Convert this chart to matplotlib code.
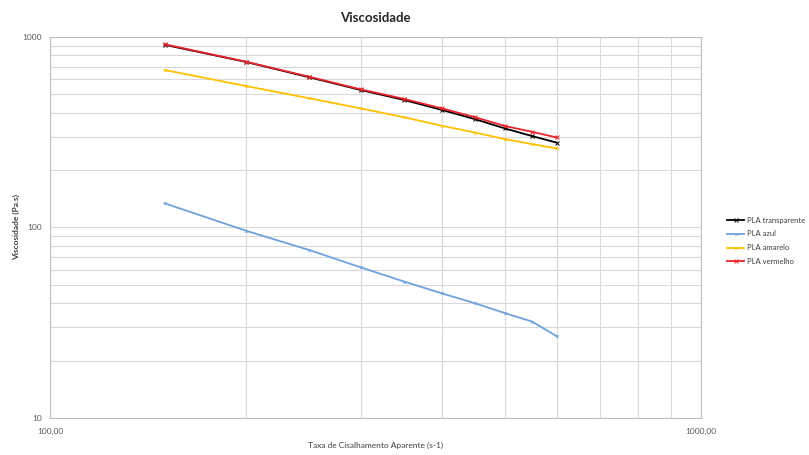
import matplotlib
matplotlib.use("Agg")
import matplotlib.pyplot as plt
from matplotlib.ticker import FixedLocator, FixedFormatter, NullFormatter

plt.rcParams['font.family'] = ['Lato', 'DejaVu Sans']

# shear rate (s-1)
taxa = [150, 200, 250, 300, 350, 400, 450, 500, 550, 600]

# viscosity (Pa.s) per sample
pla_transparente = [910, 740, 615, 527, 467, 414, 370, 331, 302, 279]
pla_azul = [134, 96.2, 76.2, 61.8, 52.0, 45.1, 40.0, 35.5, 32.1, 26.9]
pla_amarelo = [671, 553, 477, 422, 379, 342, 315, 291, 274, 260]
pla_vermelho = [916, 742, 619, 531, 473, 422, 379, 341, 318, 297]

series_names = ["PLA transparente", "PLA azul", "PLA amarelo", "PLA vermelho"]

fig = plt.figure(figsize=(8.09, 4.55), dpi=100)
ax = fig.add_axes([50 / 809, 1 - 418 / 455, 651 / 809, 381 / 455])

ax.plot(taxa, pla_transparente, color="black", lw=1.3, marker="x", ms=3, mew=0.7,
        label=series_names[0], zorder=3)
ax.plot(taxa, pla_azul, color="#6fa3dc", lw=1.3, marker="x", ms=2, mew=0.5,
        label=series_names[1], zorder=3)
ax.plot(taxa, pla_amarelo, color="#ffc000", lw=1.3, marker="x", ms=2, mew=0.5,
        label=series_names[2], zorder=3)
ax.plot(taxa, pla_vermelho, color="#e8252b", lw=1.3, marker="x", ms=3, mew=0.7,
        label=series_names[3], zorder=4)

ax.set_xscale("log")
ax.set_yscale("log")
ax.set_xlim(100, 1000)
ax.set_ylim(10, 1000)

ax.xaxis.set_major_locator(FixedLocator([100, 1000]))
ax.xaxis.set_major_formatter(FixedFormatter(["100,00", "1000,00"]))
ax.xaxis.set_minor_locator(FixedLocator([200, 300, 400, 500, 600, 700, 800, 900]))
ax.xaxis.set_minor_formatter(NullFormatter())
ax.yaxis.set_major_locator(FixedLocator([10, 100, 1000]))
ax.yaxis.set_major_formatter(FixedFormatter(["10", "100", "1000"]))
ax.yaxis.set_minor_locator(FixedLocator([m * d for d in (10, 100) for m in range(2, 10)]))
ax.yaxis.set_minor_formatter(NullFormatter())

ax.grid(True, which="both", color="#d9d9d9", lw=0.8)
ax.set_axisbelow(True)
ax.tick_params(which="both", length=0, labelsize=6, colors="#595959")
ax.tick_params(axis="x", pad=7)
ax.tick_params(axis="y", pad=6)
for s in ax.spines.values():
    s.set_color("#bfbfbf")
    s.set_linewidth(0.8)

ax.set_title("Viscosidade", fontsize=9.5, fontweight="bold", color="#262626", pad=11)
ax.set_xlabel("Taxa de Cisalhamento Aparente (s-1)", fontsize=6, color="#404040", labelpad=5)
ax.set_ylabel("Viscosidade (Pa.s)", fontsize=6, fontweight="bold", color="#404040", labelpad=-2)
ax.yaxis.set_label_coords(-17 / 651 - 0.02, 0.5)

leg = ax.legend(loc="center left", bbox_to_anchor=(1.03, 0.465), frameon=False,
                fontsize=5.5, handlelength=2.2, labelspacing=0.9, handletextpad=0.3)
for t in leg.get_texts():
    t.set_color("#404040")

fig.savefig("out.png", dpi=100)
